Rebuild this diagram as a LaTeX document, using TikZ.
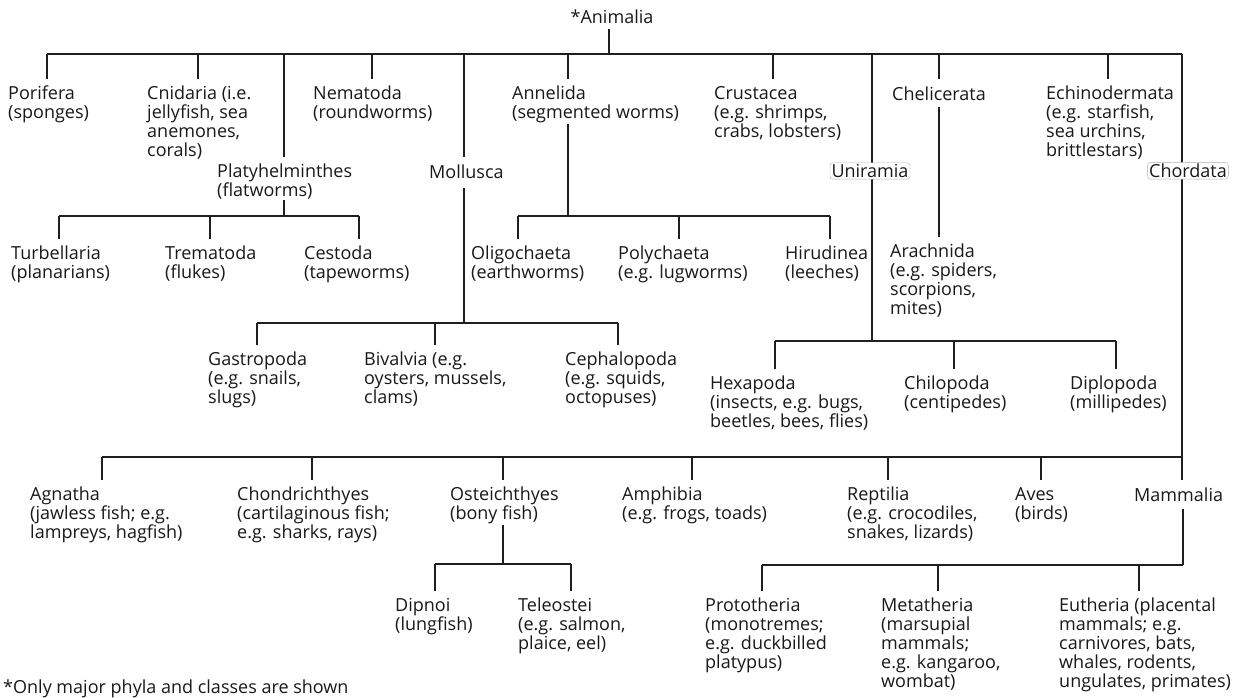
\documentclass[tikz,border=0pt]{standalone}
\usepackage{fontspec}
\setmainfont{Open Sans}
\pgfdeclarelayer{bg}
\pgfsetlayers{bg,main}
\newcommand\kid[3]{\coordinate (j#3) at (#1,#2); \draw[conn] (j#3) -- ([yshift=7pt]j#3 |- #3.north);}
\begin{document}
\begin{tikzpicture}[x=1pt,y=-1pt,
  lbl/.style={anchor=north west, inner sep=0pt, align=left, font=\fontsize{18}{19}\selectfont, text=black!90, execute at begin node=\rule{0pt}{14pt}},
  tag/.style={anchor=base, inner sep=1.5pt, fill=white, draw=black!30, line width=0.4pt, rounded corners=3pt, font=\fontsize{18}{19}\selectfont, text=black!90},
  conn/.style={line width=1.2pt, draw=black!88}]
\useasboundingbox (0,0) rectangle (1240,697);

% ---- nodes ----
\node[lbl, anchor=north] (anim) at (612,9) {*Animalia};
\node[lbl] (por) at (8,86) {Porifera\\(sponges)};
\node[lbl] (cni) at (147,86) {Cnidaria (i.e.\\jellyfish, sea\\anemones,\\corals)};
\node[lbl] (nem) at (313,86) {Nematoda\\(roundworms)};
\node[lbl] (ann) at (512,86) {Annelida\\(segmented worms)};
\node[lbl] (cru) at (714,86) {Crustacea\\(e.g. shrimps,\\crabs, lobsters)};
\node[lbl] (che) at (892,86) {Chelicerata};
\node[lbl] (ech) at (1046,86) {Echinodermata\\(e.g. starfish,\\sea urchins,\\brittlestars)};
\node[lbl] (pla) at (217,164) {Platyhelminthes\\(flatworms)};
\node[lbl] (mol) at (429,164) {Mollusca};
\node[tag] (uni) at (870,177.5) {Uniramia};
\node[tag] (cho) at (1188,177.5) {Chordata};

\node[lbl] (tur) at (11,246) {Turbellaria\\(planarians)};
\node[lbl] (tre) at (165,246) {Trematoda\\(flukes)};
\node[lbl] (ces) at (304,246) {Cestoda\\(tapeworms)};
\node[lbl] (oli) at (471,246) {Oligochaeta\\(earthworms)};
\node[lbl] (pol) at (618,246) {Polychaeta\\(e.g. lugworms)};
\node[lbl] (hir) at (785,246) {Hirudinea\\(leeches)};
\node[lbl] (ara) at (890,244) {Arachnida\\(e.g. spiders,\\scorpions,\\mites)};

\node[lbl] (gas) at (208,352) {Gastropoda\\(e.g. snails,\\slugs)};
\node[lbl] (biv) at (364,352) {Bivalvia (e.g.\\oysters, mussels,\\clams)};
\node[lbl] (cep) at (565,352) {Cephalopoda\\(e.g. squids,\\octopuses)};

\node[lbl] (hex) at (710,376) {Hexapoda\\(insects, e.g. bugs,\\beetles, bees, flies)};
\node[lbl] (chi) at (904,376) {Chilopoda\\(centipedes)};
\node[lbl] (dip) at (1070,376) {Diplopoda\\(millipedes)};

\node[lbl] (agn) at (30,487) {Agnatha\\(jawless fish; e.g.\\lampreys, hagfish)};
\node[lbl] (chn) at (237,487) {Chondrichthyes\\(cartilaginous fish;\\e.g. sharks, rays)};
\node[lbl] (ost) at (450,487) {Osteichthyes\\(bony fish)};
\node[lbl] (amp) at (622,487) {Amphibia\\(e.g. frogs, toads)};
\node[lbl] (rep) at (847,487) {Reptilia\\(e.g. crocodiles,\\snakes, lizards)};
\node[lbl] (ave) at (1015,487) {Aves\\(birds)};
\node[lbl] (mam) at (1134,487) {Mammalia};

\node[lbl] (dpn) at (395,598) {Dipnoi\\(lungfish)};
\node[lbl] (tel) at (518,598) {Teleostei\\(e.g. salmon,\\plaice, eel)};
\node[lbl] (pro) at (705,598) {Prototheria\\(monotremes;\\e.g. duckbilled\\platypus)};
\node[lbl] (met) at (881,598) {Metatheria\\(marsupial\\mammals;\\e.g. kangaroo,\\wombat)};
\node[lbl] (eut) at (1059,598) {Eutheria (placental\\mammals; e.g.\\carnivores, bats,\\whales, rodents,\\ungulates, primates)};

\node[lbl] (foot) at (3,679) {*Only major phyla and classes are shown};

% ---- connectors ----
\begin{pgfonlayer}{bg}
\fill[white] (0,0) rectangle (1240,697);
\coordinate (jtop) at (609,54);
\draw[conn] ([yshift=-5pt]anim.south -| jtop) -- (jtop);
\kid{47}{54}{por}
\kid{198}{54}{cni}
\kid{284}{54}{pla}
\kid{372}{54}{nem}
\kid{464}{54}{mol}
\kid{568}{54}{ann}
\kid{773}{54}{cru}
\kid{939}{54}{che}
\kid{1108}{54}{ech}
\coordinate (juni) at (872,54);
\coordinate (jcho) at (1182,54);
\draw[conn] (jpor) -- (jcho);
% Platyhelminthes
\coordinate (bpla) at (284,216);
\draw[conn] (bpla |- pla.south) -- (bpla);
\kid{59}{216}{tur}
\kid{210}{216}{tre}
\kid{359}{216}{ces}
\draw[conn] (jtur) -- (jces);
% Annelida
\coordinate (bann) at (568,216);
\draw[conn] ([yshift=-1pt]bann |- ann.south) -- (bann);
\kid{518}{216}{oli}
\kid{679}{216}{pol}
\kid{830}{216}{hir}
\draw[conn] (joli) -- (jhir);
% Mollusca
\coordinate (bmol) at (464,323);
\draw[conn] ([yshift=-9pt]bmol |- mol.south) -- (bmol);
\kid{257}{323}{gas}
\kid{435}{323}{biv}
\kid{618}{323}{cep}
\draw[conn] (jgas) -- (jcep);
% Chelicerata
\coordinate (bche) at (939,120);
\draw[conn] ([yshift=-6pt]bche |- che.south) -- ([yshift=7pt]bche |- ara.north);
% Uniramia
\coordinate (buni) at (872,341);
\draw[conn] (juni) -- (buni);
\kid{775}{341}{hex}
\kid{954}{341}{chi}
\kid{1116}{341}{dip}
\draw[conn] (jhex) -- (jdip);
% Chordata
\coordinate (bcho) at (1182,457);
\draw[conn] (jcho) -- (bcho);
\kid{102}{457}{agn}
\kid{312}{457}{chn}
\kid{503}{457}{ost}
\kid{692}{457}{amp}
\kid{888}{457}{rep}
\kid{1041}{457}{ave}
\kid{1182}{457}{mam}
\draw[conn] (jagn) -- (jmam);
% Osteichthyes
\coordinate (bost) at (503,564);
\draw[conn] ([yshift=-1pt]bost |- ost.south) -- (bost);
\kid{435}{564}{dpn}
\kid{571}{564}{tel}
\draw[conn] (jdpn) -- (jtel);
% Mammalia
\coordinate (bmam) at (1183,565);
\draw[conn] ([yshift=-7pt]bmam |- mam.south) -- (bmam);
\kid{762}{565}{pro}
\kid{938}{565}{met}
\kid{1139}{565}{eut}
\draw[conn] (jpro) -- (bmam);
\end{pgfonlayer}
\end{tikzpicture}
\end{document}
